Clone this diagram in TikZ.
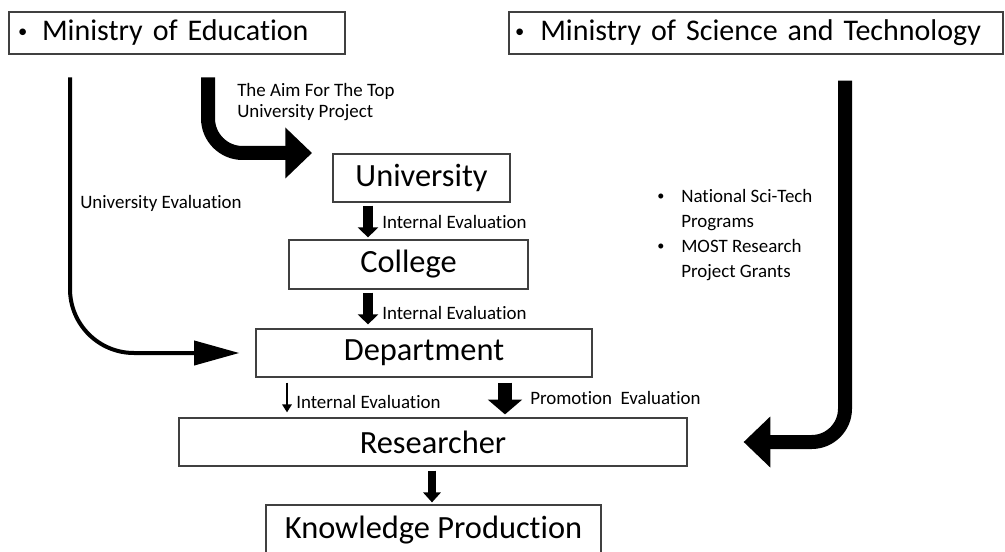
\documentclass[tikz,border=0pt]{standalone}
\usepackage{fontspec}
\setmainfont{Carlito}[Ligatures=NoCommon]
\usetikzlibrary{arrows.meta, positioning}

% small bullet in front of a text line
\newcommand{\dotmark}[2][0.62]{\makebox[#2][l]{\raisebox{0.12em}{\scalebox{#1}{\textbullet}}}}

\tikzset{
  box/.style={draw=black!75, line width=0.9pt, rectangle, inner sep=0pt,
    font=\fontsize{24.3}{28}\selectfont},
  head/.style={box, font=\fontsize{22.5}{27}\selectfont, align=left,
    minimum height=31.5pt},
  lbl/.style={anchor=west, inner sep=0pt, font=\fontsize{14.2}{17}\selectfont},
  thinarr/.style={line width=3pt, -{Triangle[length=34pt,width=18pt]},
    rounded corners=48pt},
  bigarr/.style={line width=10.5pt, -{Triangle[length=20pt,width=37pt]},
    rounded corners=26pt},
  steparr/.style={line width=7pt, -{Triangle[length=7.5pt,width=15pt]}},
  promarr/.style={line width=11pt, -{Triangle[length=11pt,width=25pt]}},
  slimarr/.style={line width=2pt, -{Triangle[length=6pt,width=7pt]}}
}

\begin{document}
\begin{tikzpicture}[x=0.75pt, y=-0.75pt]
  \useasboundingbox (0,0) rectangle (1005,552);

  % the two ministries on top
  \node[head, text width=238.5pt, inner xsep=6.75pt] (moe) at (177,33)
    {\dotmark{18pt}Ministry of Education};
  \node[head, text width=361.5pt, inner xsep=4.5pt] (most) at (756,33)
    {\dotmark{19pt}Ministry of Science and Technology};

  % the hierarchy
  \node[box, minimum width=132.75pt, minimum height=36pt] (uni) at (421.5,178) {University};
  \node[box, minimum width=179.25pt, minimum height=36.75pt] (col) at (408.5,264.5) {College};
  \node[box, minimum width=252pt, minimum height=36pt] (dep) at (424,353) {Department};
  \node[box, minimum width=381pt, minimum height=36pt] (res) at (433,442) {Researcher};
  \node[box, minimum width=251.25pt, minimum height=37.5pt] (kp) at (433.5,530) {Knowledge Production};

  % x positions of the connectors
  \coordinate (ue) at (70,0);
  \coordinate (aim) at (208,0);
  \coordinate (aimend) at (312,153);
  \coordinate (ra) at (845,0);
  \coordinate (d1) at (368,0);
  \coordinate (d2) at (287,0);
  \coordinate (d3) at (505,0);
  \coordinate (d4) at (432,0);

  \draw[thinarr, shorten <=17pt, shorten >=12pt] (moe.south -| ue) |- (dep.west);
  \draw[bigarr, shorten <=17pt] (moe.south -| aim) |- (aimend);
  \draw[bigarr, rounded corners=25pt, shorten <=19.5pt, shorten >=42pt]
    (most.south -| ra) |- (res.east);

  \draw[steparr, shorten <=2.25pt, shorten >=1.5pt] (uni.south -| d1) -- (col.north -| d1);
  \draw[steparr, shorten <=2.25pt, shorten >=3pt] (col.south -| d1) -- (dep.north -| d1);
  \draw[slimarr, shorten <=3.75pt, shorten >=3.75pt] (dep.south -| d2) -- (res.north -| d2);
  \draw[promarr, shorten <=3.75pt, shorten >=2.25pt] (dep.south -| d3) -- (res.north -| d3);
  \draw[steparr, line width=5.5pt, -{Triangle[length=7.5pt,width=13pt]},
    shorten <=3pt, shorten >=1.5pt] (res.south -| d4) -- (kp.north -| d4);

  % labels
  \node[lbl, align=left, font=\fontsize{14.2}{15.75}\selectfont] (aimlbl) at (237,102.5)
    {The Aim For The Top\\University Project};
  \node[lbl] (uelbl) at (80,203) {University Evaluation};
  \node[lbl] (ie1) at (382,222) {Internal Evaluation};
  \node[lbl] (ie2) at (382,313) {Internal Evaluation};
  \node[lbl] (ie3) at (296,402) {Internal Evaluation};
  \node[lbl] (prom) at (530,398) {Promotion\ \ Evaluation};
  \node[lbl, align=left, font=\fontsize{14.2}{18.75}\selectfont] (grants) at (657,235)
    {\dotmark[0.75]{18pt}National Sci-Tech\\
     \hspace*{18pt}Programs\\
     \dotmark[0.75]{18pt}MOST Research\\
     \hspace*{18pt}Project Grants};
\end{tikzpicture}
\end{document}
